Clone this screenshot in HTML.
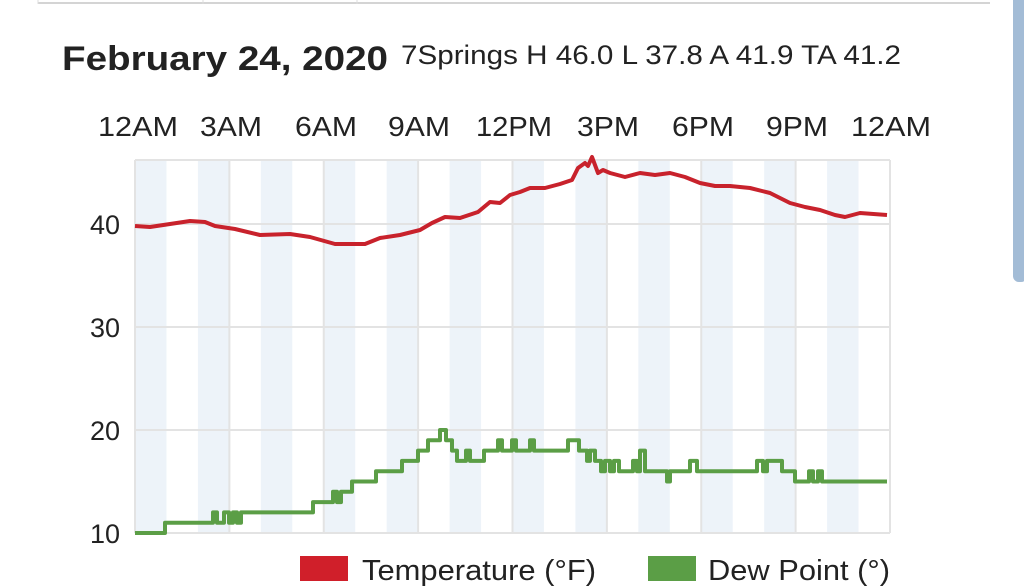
<!DOCTYPE html>
<html><head><meta charset="utf-8"><style>
html,body{margin:0;padding:0;background:#fff;width:1024px;height:586px;overflow:hidden}
svg{display:block}
text{font-family:"Liberation Sans",sans-serif;fill:#222}
</style></head><body>
<svg id="s" width="1024" height="586" viewBox="0 0 1024 586">
<line x1="38" y1="3" x2="990" y2="3" stroke="#d4d4d4" stroke-width="2"/>
<line x1="38" y1="0" x2="38" y2="4" stroke="#ddd"/>
<line x1="203" y1="0" x2="203" y2="4" stroke="#ddd"/>
<line x1="357" y1="0" x2="357" y2="4" stroke="#ddd"/>
<rect x="1013" y="-6" width="14" height="288" rx="6" fill="#a3bcd6"/>
<text x="62" y="70" font-size="34" font-weight="bold" textLength="326" lengthAdjust="spacingAndGlyphs">February 24, 2020</text>
<text x="401" y="64" font-size="27" textLength="500" lengthAdjust="spacingAndGlyphs">7Springs H 46.0 L 37.8 A 41.9 TA 41.2</text>
<g id="bands"></g>
<g id="grid" stroke="#e3e3e3" stroke-width="2" fill="none"></g>
<g id="xl" font-size="28"></g>
<g font-size="27" text-anchor="end">
<text x="120" y="234">40</text><text x="120" y="337">30</text><text x="120" y="440">20</text><text x="120" y="543">10</text>
</g>
<path id="t" fill="none" stroke="#c8222c" stroke-width="4" stroke-linejoin="round"/>
<path id="d" fill="none" stroke="#5b9e46" stroke-width="4" stroke-linejoin="round"/>
<rect x="300" y="556" width="48" height="25" fill="#d01f2a"/>
<text x="362" y="580" font-size="29" textLength="234" lengthAdjust="spacingAndGlyphs">Temperature (°F)</text>
<rect x="648" y="556" width="48" height="25" fill="#5b9e46"/>
<text x="708" y="580" font-size="29" textLength="182" lengthAdjust="spacingAndGlyphs">Dew Point (°)</text>
</svg>
<script>
var NS="http://www.w3.org/2000/svg",L=135,R=890,T=160,B=533,hw=(R-L)/24;
function el(p,n,a,t){var e=document.createElementNS(NS,n);for(var k in a)e.setAttribute(k,a[k]);if(t)e.textContent=t;document.getElementById(p).appendChild(e);}
for(var h=0;h<24;h+=2)el("bands","rect",{x:L+h*hw,y:T,width:hw,height:B-T,fill:"#edf3f9"});
for(var h=0;h<=24;h+=3)el("grid","line",{x1:L+h*hw,y1:T,x2:L+h*hw,y2:B});
[224,327,430,533,T].forEach(function(y){el("grid","line",{x1:L,y1:y,x2:R,y2:y});});
var labs=[["12AM",98,80],["3AM",200,62],["6AM",295,62],["9AM",388,62],["12PM",476,76],["3PM",577,62],["6PM",672,62],["9PM",766,62],["12AM",851,80]];
labs.forEach(function(s){el("xl","text",{x:s[1],y:136,textLength:s[2],lengthAdjust:"spacingAndGlyphs"},s[0]);});
var tp=[[135,226],[150,227],[170,224],[190,221],[205,222],[215,226],[235,229],[260,235],[290,234],[310,237],[335,244],[365,244],[380,238],[400,235],[420,230],[432,223],[445,217],[460,218],[478,212],[490,202],[500,203],[510,195],[520,192],[530,188],[545,188],[560,184],[572,180],[578,168],[585,163],[588,166],[592,157],[598,173],[603,170],[610,173],[625,177],[640,173],[655,175],[670,173],[685,177],[700,183],[715,186],[730,186],[750,188],[770,193],[790,203],[805,207],[820,210],[835,215],[845,217],[860,213],[887,215]];
var d="";tp.forEach(function(p,i){d+=(i?"L":"M")+p[0]+","+p[1];});
document.getElementById("t").setAttribute("d",d);
function y(v){return B-(v-10)*10.3;}
var st=[[135,10],[165,11],[213,12],[217,11],[224,12],[229,11],[233,12],[237,11],[241,12],[313,13],[333,14],[337,13],[341,14],[352,15],[360,15],[376,16],[402,17],[418,18],[428,19],[440,20],[446,19],[452,18],[457,17],[466,18],[470,17],[484,18],[498,19],[502,18],[512,19],[516,18],[530,19],[534,18],[568,19],[579,18],[587,17],[590,18],[595,17],[601,16],[605,17],[610,16],[614,17],[619,16],[633,17],[637,16],[640,18],[645,16],[667,15],[670,16],[690,17],[697,16],[757,17],[763,16],[767,17],[782,16],[795,15],[809,16],[813,15],[818,16],[822,15],[887,15]];
var dd="M"+st[0][0]+","+y(st[0][1]);
for(var i=1;i<st.length;i++){dd+="H"+st[i][0]+"V"+y(st[i][1]);}
document.getElementById("d").setAttribute("d",dd);
</script>
</body></html>
